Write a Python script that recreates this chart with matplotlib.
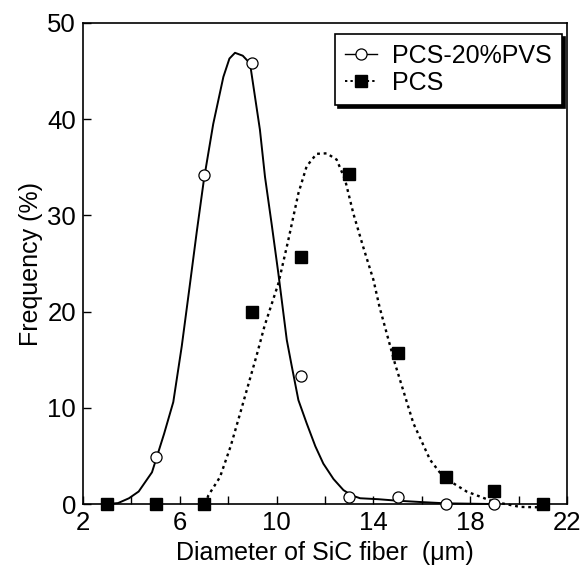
import matplotlib
matplotlib.use("Agg")
import matplotlib.pyplot as plt
from matplotlib.ticker import FixedLocator

plt.rcParams['font.family'] = ['Liberation Sans', 'DejaVu Sans']

# measured points
diam = [3, 5, 7, 9, 11, 13, 15, 17, 19, 21]
pvs_freq = [0, 4.9, 34.2, 45.8, 13.3, 0.7, 0.7, 0.0, 0.0]
pcs_freq = [0, 0, 0, 20.0, 25.7, 34.3, 15.7, 2.8, 1.4, 0]

# fitted curves
pvs_curve_x = [3.0, 3.45, 3.9, 4.3, 4.85, 5.35, 5.73, 6.08, 6.4, 6.7, 7.0, 7.38, 7.8, 8.05,
               8.28, 8.6, 8.9, 9.31, 9.52, 9.8, 10.07, 10.42, 10.62, 10.9, 11.24, 11.6, 11.93,
               12.35, 12.76, 13.1, 13.45, 14.2, 14.96, 16.0, 17.0, 18.95]
pvs_curve_y = [0, 0.1, 0.6, 1.3, 3.3, 7.3, 10.6, 16.4, 22.5, 28.3, 33.8, 39.5, 44.4, 46.3,
               46.9, 46.6, 45.8, 38.9, 34.0, 29.0, 24.0, 17.05, 14.4, 10.8, 8.4, 6.0, 4.2,
               2.6, 1.45, 0.9, 0.6, 0.5, 0.35, 0.2, 0.07, 0]
pcs_curve_x = [7.05, 7.18, 7.66, 8.1, 8.49, 9.18, 9.5, 10.07, 10.48, 10.9, 11.24, 11.65, 12.07,
               12.48, 12.83, 13.17, 13.58, 14.0, 14.25, 14.89, 15.65, 16.34, 16.89, 17.85,
               18.95, 20.06, 21.0]
pcs_curve_y = [0, 0.9, 2.8, 6.0, 9.4, 15.5, 18.5, 22.9, 27.4, 32.3, 35.1, 36.4, 36.45,
               35.8, 33.7, 30.2, 26.7, 23.3, 20.5, 14.6, 8.4, 4.6, 2.8, 1.3,
               0.25, -0.3, -0.35]

x_major = [2, 6, 10, 14, 18, 22]
x_minor = [4, 8, 12, 16, 20]
y_major = [0, 10, 20, 30, 40, 50]

dots = (0, (1.2, 1.6))

fig = plt.figure(figsize=(5.83, 5.66), dpi=100)
ax = fig.add_axes([0.1424, 0.1095, 0.8302, 0.8499])

ax.plot(pvs_curve_x, pvs_curve_y, '-', color='black', lw=1.4, clip_on=False)
ax.plot(pcs_curve_x, pcs_curve_y, linestyle=dots, color='black', lw=1.7, clip_on=False)
ax.plot(diam[:len(pvs_freq)], pvs_freq, 'o', mfc='white', mec='black', mew=0.9, ms=8,
        clip_on=False, zorder=3)
ax.plot(diam, pcs_freq, 's', color='black', ms=8, clip_on=False, zorder=4)

# legend proxies
h1, = ax.plot([], [], '-o', color='black', mfc='white', mec='black', lw=1.0, ms=8, mew=0.9)
h2, = ax.plot([], [], marker='s', linestyle=dots, color='black', lw=1.4, ms=8)
leg = ax.legend([h1, h2], ['PCS-20%PVS', 'PCS'], loc='upper right',
                bbox_to_anchor=(0.99, 0.977), borderaxespad=0, fontsize=18,
                numpoints=1, handlelength=1.3, handletextpad=0.6, labelspacing=0.12,
                borderpad=0.4, fancybox=False, shadow={'color': 'black', 'alpha': 1},
                framealpha=1)
leg.get_frame().set_edgecolor('black')
leg.get_frame().set_linewidth(1.2)

ax.set_xlim(2, 22)
ax.set_ylim(0, 50)
ax.xaxis.set_major_locator(FixedLocator(x_major))
ax.xaxis.set_minor_locator(FixedLocator(x_minor))
ax.yaxis.set_major_locator(FixedLocator(y_major))
ax.tick_params(which='both', direction='in', length=6, width=1.0, labelsize=18.5,
               top=False, right=False, pad=5)
for s in ax.spines.values():
    s.set_linewidth(1.2)

ax.set_xlabel('Diameter of SiC fiber  (\u03bcm)', fontsize=18, labelpad=4)
ax.set_ylabel('Frequency (%)', fontsize=18, labelpad=3)

fig.savefig('out.png', dpi=100)
